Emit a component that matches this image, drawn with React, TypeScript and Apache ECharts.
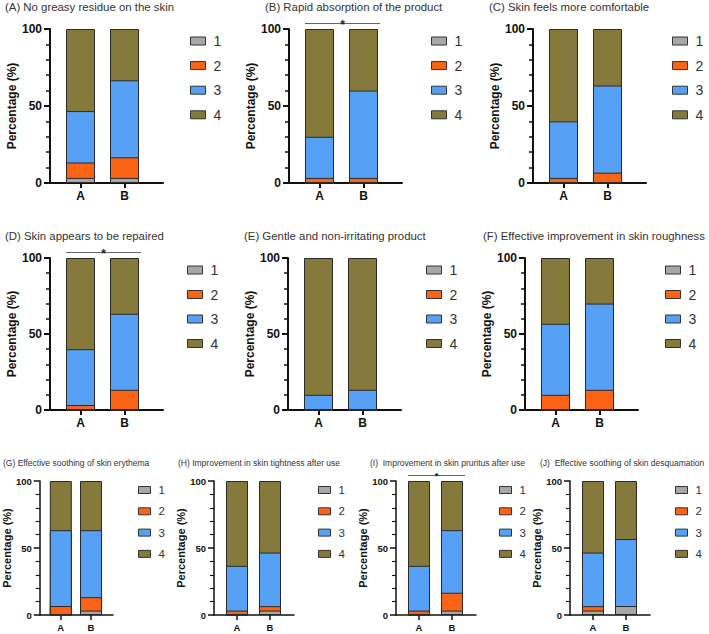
import React, { useEffect, useRef } from "react";
import * as echarts from "echarts";

// Groups on the x axis and the four response levels stacked in each bar
const groups = ["A", "B"];
const levels = ["1", "2", "3", "4"];

const panelIds = ["A", "B", "C", "D", "E", "F", "G", "H", "I", "J"];
const panelTitles = [
  "(A) No greasy residue on the skin",
  "(B) Rapid absorption of the product",
  "(C) Skin feels more comfortable",
  "(D) Skin appears to be repaired",
  "(E) Gentle and non-irritating product",
  "(F) Effective improvement in skin roughness",
  "(G) Effective soothing of skin erythema",
  "(H) Improvement in skin tightness after use",
  "(I)  Improvement in skin pruritus after use",
  "(J)  Effective soothing of skin desquamation",
];

// Share of responses (%) per level, one [A, B] pair per panel
const level1 = [[3.3, 3.3], [0, 0], [0, 0], [0, 0], [0, 0], [0, 0], [0, 3.3], [0, 3.3], [0, 3.3], [3.3, 6.7]];
const level2 = [[10, 13.4], [3.3, 3.3], [3.3, 6.7], [3.3, 13.3], [0, 0], [10, 13.3], [6.7, 10], [3.3, 3.3], [3.3, 13.3], [3.3, 0]];
const level3 = [[33.4, 50], [26.7, 56.7], [36.7, 56.6], [36.7, 50], [10, 13.3], [46.7, 56.7], [56.6, 50], [33.4, 40], [33.4, 46.7], [40, 50]];
const level4 = [[53.3, 33.3], [70, 40], [60, 36.7], [60, 36.7], [90, 86.7], [43.3, 30], [36.7, 36.7], [63.3, 53.4], [63.3, 36.7], [53.4, 43.3]];
const levelData = [level1, level2, level3, level4];

// Panels with a significant difference between A and B
const sigPanels = ["B", "D", "I"];

const yTicks = [0, 50, 100];

const levelColors = ["#a7a7a7", "#fb6415", "#56a1f6", "#857a3b"];

// Row geometry
const rows = [
  { top: 29, height: 154, width: 113, offset: 30.5, spacing: 44, barWidth: 29, fs: 12, nameFs: 12, titleFs: 11.4, titleTop: 1, legendTop: 34, legendFs: 14, iconW: 15, iconH: 8, legendStep: 20.6, axisW: 2, nameGap: 31 },
  { top: 258, height: 152, width: 113, offset: 30.5, spacing: 44, barWidth: 29, fs: 12, nameFs: 12, titleFs: 11.4, titleTop: 230, legendTop: 263, legendFs: 14, iconW: 15, iconH: 8, legendStep: 20.5, axisW: 2, nameGap: 31 },
  { top: 481, height: 134, width: 80, offset: 23, spacing: 33, barWidth: 22, fs: 9.5, nameFs: 11, titleFs: 8.5, titleTop: 458, legendTop: 484, legendFs: 11.5, iconW: 12, iconH: 7, legendStep: 18.3, axisW: 1.5, nameGap: 20 },
];

// Per-panel placement: row, y-axis x, legend x, title x
const panelPlace = [
  { row: 0, axisX: 50, legendX: 190, titleX: 5 },
  { row: 0, axisX: 289, legendX: 431, titleX: 265 },
  { row: 0, axisX: 533, legendX: 672, titleX: 489 },
  { row: 1, axisX: 50, legendX: 187, titleX: 5 },
  { row: 1, axisX: 288, legendX: 426, titleX: 244 },
  { row: 1, axisX: 525, legendX: 665, titleX: 483 },
  { row: 2, axisX: 33, legendX: 138, titleX: 3 },
  { row: 2, axisX: 214, legendX: 318, titleX: 178 },
  { row: 2, axisX: 396, legendX: 499, titleX: 370 },
  { row: 2, axisX: 570, legendX: 675, titleX: 540 },
];

const SANS = "'Liberation Sans', Arial, sans-serif";

export default function App() {
  const ref = useRef<HTMLDivElement>(null);

  useEffect(() => {
    if (!ref.current) return;
    const chart = echarts.init(ref.current, undefined, { renderer: "svg" });

    const grids: any[] = [];
    const xAxes: any[] = [];
    const yAxes: any[] = [];
    const series: any[] = [];
    const legends: any[] = [];
    const titles: any[] = [];

    panelIds.forEach((id, p) => {
      const pl = panelPlace[p];
      const r = rows[pl.row];
      grids.push({ left: pl.axisX, top: r.top, width: r.width, height: r.height, containLabel: false });
      xAxes.push({
        type: "value",
        gridIndex: p,
        min: -r.offset / r.spacing,
        max: (r.width - r.offset) / r.spacing,
        axisLine: { show: true, onZero: false, lineStyle: { color: "#111", width: r.axisW } },
        axisTick: { show: true, customValues: [0, 1], length: 5, lineStyle: { color: "#111", width: r.axisW } },
        axisLabel: {
          show: true,
          customValues: [0, 1],
          formatter: (v: number) => groups[Math.round(v)] ?? "",
          fontWeight: "bold",
          fontSize: r.fs,
          color: "#111",
          margin: 7,
        },
        splitLine: { show: false },
      });
      yAxes.push({
        type: "value",
        gridIndex: p,
        min: 0,
        max: 100,
        interval: 50,
        name: "Percentage (%)",
        nameLocation: "middle",
        nameRotate: 90,
        nameGap: r.nameGap,
        nameTextStyle: { fontWeight: "bold", fontSize: r.nameFs, color: "#111" },
        axisLine: { show: true, onZero: false, lineStyle: { color: "#111", width: r.axisW } },
        axisTick: { show: true, length: 6, lineStyle: { color: "#111", width: r.axisW } },
        minorTick: { show: true, splitNumber: 5, length: 4, lineStyle: { color: "#111", width: r.axisW * 0.75 } },
        axisLabel: {
          fontWeight: "bold",
          fontSize: r.fs,
          color: "#111",
          margin: 8,
          formatter: (v: number) => (yTicks.includes(v) ? String(v) : ""),
        },
        splitLine: { show: false },
      });

      // Each level's bar runs from 0 to the running total of the levels up to it;
      // the higher levels are drawn first so the lower ones sit on top of them.
      const running = groups.map((_, g) => {
        let acc = 0;
        return levelData.map((lvl) => (acc += lvl[p][g]));
      });
      for (let l = levels.length - 1; l >= 0; l--) {
        series.push({
          type: "bar",
          name: levels[l],
          xAxisIndex: p,
          yAxisIndex: p,
          barWidth: r.barWidth,
          barGap: "-100%",
          data: groups.map((_, g) => [g, +running[g][l].toFixed(1)]),
          itemStyle: { color: levelColors[l], borderColor: "#2a2a2a", borderWidth: 1 },
          emphasis: { disabled: true },
        });
      }

      legends.push({
        orient: "vertical",
        left: pl.legendX,
        top: r.legendTop,
        padding: 0,
        data: levels,
        icon: "rect",
        itemWidth: r.iconW,
        itemHeight: r.iconH,
        itemGap: r.legendStep - r.iconH - 2,
        selectedMode: false,
        itemStyle: { borderColor: "#333", borderWidth: 1 },
        textStyle: {
          fontSize: r.legendFs,
          color: "#333",
          lineHeight: r.iconH + 2,
          padding: [0, 0, 0, 3],
        },
      });
      titles.push({
        text: panelTitles[p],
        left: pl.titleX,
        top: r.titleTop,
        padding: 0,
        textStyle: { fontSize: r.titleFs, fontWeight: "normal", color: "#333" },
      });
    });

    chart.setOption({
      animation: false,
      backgroundColor: "#ffffff",
      textStyle: { fontFamily: SANS },
      color: levelColors,
      title: titles,
      legend: legends,
      grid: grids,
      xAxis: xAxes,
      yAxis: yAxes,
      series,
    });

    // Significance brackets placed through each panel's own scales
    const graphic: any[] = [];
    sigPanels.forEach((id) => {
      const p = panelIds.indexOf(id);
      const r = rows[panelPlace[p].row];
      const a = chart.convertToPixel({ gridIndex: p }, [0, 100]) as number[];
      const b = chart.convertToPixel({ gridIndex: p }, [1, 100]) as number[];
      const y = a[1] - 5.5;
      const x1 = a[0] - r.barWidth / 2;
      const x2 = b[0] + r.barWidth / 2 + 2;
      graphic.push({
        type: "line",
        shape: { x1, y1: y, x2, y2: y },
        style: { stroke: "#666", lineWidth: 1.2 },
        silent: true,
      });
      graphic.push({
        type: "text",
        x: (x1 + x2) / 2,
        y: y - 5,
        style: { text: "*", fill: "#222", fontSize: r.fs, fontWeight: "bold", align: "center", verticalAlign: "top" },
        silent: true,
      });
    });
    chart.setOption({ graphic });

    return () => chart.dispose();
  }, []);

  return (
    <div
      ref={ref}
      style={{ position: "fixed", left: 0, top: 0, width: 709, height: 634, background: "#fff" }}
    />
  );
}
